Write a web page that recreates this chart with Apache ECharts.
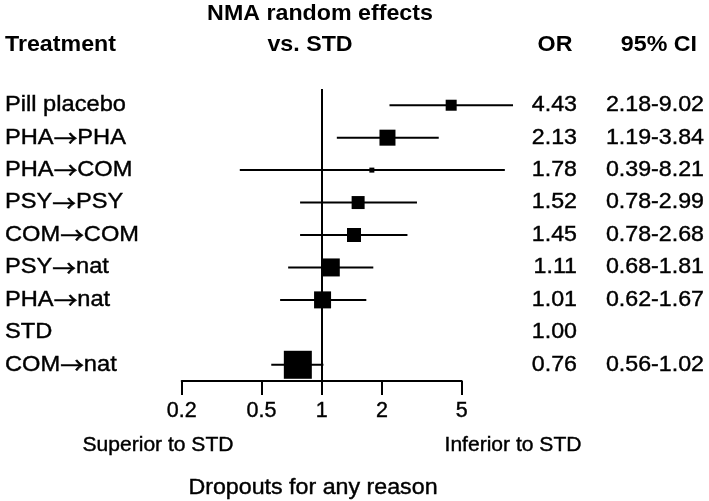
<!DOCTYPE html>
<html>
<head>
<meta charset="utf-8">
<script src="https://cdn.jsdelivr.net/npm/echarts@6/dist/echarts.min.js"></script>
<style>
  html, body { margin: 0; padding: 0; background: #fff; }
  #myChart { width: 709px; height: 501px; }
</style>
</head>
<body>
<div id="myChart"></div>
<script>
var treatments = ['Pill placebo', 'PHA→PHA', 'PHA→COM', 'PSY→PSY', 'COM→COM', 'PSY→nat', 'PHA→nat', 'STD', 'COM→nat'];
var orValues = [4.43, 2.13, 1.78, 1.52, 1.45, 1.11, 1.01, 1.00, 0.76];
var ciLow = [2.18, 1.19, 0.39, 0.78, 0.78, 0.68, 0.62, null, 0.56];
var ciHigh = [9.02, 3.84, 8.21, 2.99, 2.68, 1.81, 1.67, null, 1.02];
var boxSizes = [11, 16, 5, 13, 14, 18, 17, 0, 28];
var tickValues = [0.2, 0.5, 1, 2, 5];

var FONT = '"Liberation Sans", Arial, sans-serif';
var STRETCH = 1.1;
var SIZE = 21.5;

function lg(v) { return Math.log(v) / Math.LN10; }

var ciData = [];
var boxData = [];
var rowData = [];
for (var i = 0; i < treatments.length; i++) {
    if (ciLow[i] != null) ciData.push([lg(ciLow[i]), lg(ciHigh[i]), i]);
    if (boxSizes[i] > 0) boxData.push({ value: [lg(orValues[i]), i], symbolSize: boxSizes[i] });
    rowData.push([0, i]);
}

var myChart = echarts.init(document.getElementById('myChart'), null, { renderer: 'canvas' });

// text stretched a bit wider, like the source figure
function txt(x, y, s, bold, align, size, stretch) {
    var sz = size || SIZE;
    return {
        type: 'text', x: x, y: y, scaleX: stretch || STRETCH,
        style: {
            text: s.replace('→', '{a|→}'), fill: '#000', align: align || 'left', verticalAlign: 'middle',
            font: (bold ? 'bold ' : '') + sz + 'px ' + FONT,
            stroke: '#000', lineWidth: bold ? 0 : 0.4,
            rich: { a: { font: sz + 'px "Noto Sans CJK SC"', fill: '#000', stroke: '#000', lineWidth: 0.6 } }
        }
    };
}

option = {
    animation: false,
    backgroundColor: '#fff',
    grid: { left: 181.7, width: 280, top: 89, height: 292 },
    xAxis: {
        type: 'value',
        min: lg(0.2),
        max: lg(5),
        splitLine: { show: false },
        axisLine: { show: true, lineStyle: { color: '#000', width: 2 } },
        axisTick: { show: true, length: 14, lineStyle: { color: '#000', width: 2 }, customValues: tickValues.map(lg) },
        axisLabel: {
            customValues: tickValues.map(lg),
            margin: 19,
            color: '#000',
            fontSize: 21.5,
            fontFamily: FONT,
            textBorderColor: '#000',
            textBorderWidth: 0.4,
            formatter: function (v) { return String(+Math.pow(10, v).toPrecision(2)); }
        }
    },
    yAxis: {
        type: 'category',
        inverse: true,
        data: treatments,
        axisLine: { show: false },
        axisTick: { show: false },
        axisLabel: { show: false },
        splitLine: { show: false }
    },
    graphic: [
        txt(320, 14, 'NMA random effects', true, 'center', 0, 1.08),
        txt(5, 45, 'Treatment', true, 'left', 0, 1.08),
        txt(310, 45, 'vs. STD', true, 'center', 0, 1.08),
        txt(555, 45, 'OR', true, 'center', 0, 1.08),
        txt(697, 45, '95% CI', true, 'right', 0, 1.08),
        txt(158, 446, 'Superior to STD', false, 'center', 19.5, 1.08),
        txt(513, 446, 'Inferior to STD', false, 'center', 19.5, 1.08),
        txt(313, 488, 'Dropouts for any reason', false, 'center', 0, 1.08)
    ],
    series: [
        {
            name: 'CI',
            type: 'custom',
            data: ciData,
            renderItem: function (params, api) {
                var a = api.coord([api.value(0), api.value(2)]);
                var b = api.coord([api.value(1), api.value(2)]);
                return {
                    type: 'line',
                    shape: { x1: a[0], y1: a[1], x2: b[0], y2: b[1] },
                    style: { stroke: '#000', lineWidth: 2 }
                };
            }
        },
        {
            name: 'OR',
            type: 'scatter',
            symbol: 'rect',
            data: boxData,
            itemStyle: { color: '#000', opacity: 1 },
            markLine: {
                silent: true,
                symbol: 'none',
                label: { show: false },
                lineStyle: { color: '#000', width: 2, type: 'solid' },
                data: [{ xAxis: 0 }]
            },
            z: 3
        },
        {
            name: 'table',
            type: 'custom',
            data: rowData,
            renderItem: function (params, api) {
                var idx = api.value(1);
                var y = api.coord([0, idx])[1];
                var kids = [
                    txt(5, y, treatments[idx], false, 'left'),
                    txt(577, y, orValues[idx].toFixed(2), false, 'right', 0, 1.08)
                ];
                if (ciLow[idx] != null) {
                    kids.push(txt(704, y, ciLow[idx].toFixed(2) + '-' + ciHigh[idx].toFixed(2), false, 'right', 0, 1.08));
                }
                return { type: 'group', children: kids };
            }
        }
    ]
};

myChart.setOption(option);
</script>
</body>
</html>
